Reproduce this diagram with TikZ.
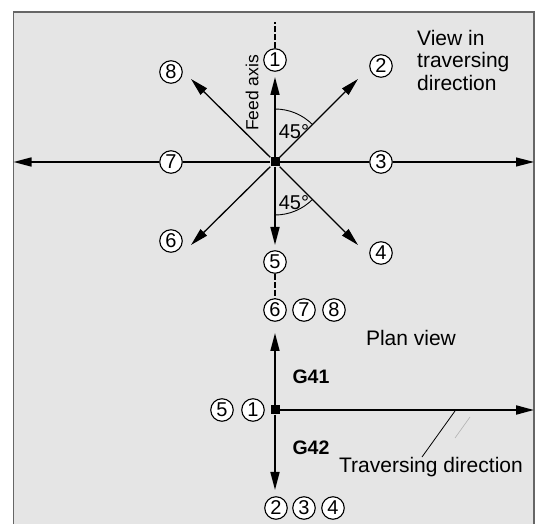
\documentclass[tikz,border=0pt]{standalone}
\usepackage{fontspec}
\setmainfont{Liberation Sans}
\usetikzlibrary{arrows.meta}

\begin{document}
\begin{tikzpicture}[
	x=1pt, y=-1pt,
	every node/.style={font=\fontsize{21}{22.5}\selectfont, inner sep=0pt},
	num/.style={draw, circle, fill=white, line width=1.1pt, minimum size=22.5pt, font=\fontsize{20}{20}\selectfont},
	dot/.style={fill=black, minimum size=9pt},
	arr/.style={-{Triangle[length=18pt, width=9pt]}, line width=1.6pt},
	thinarr/.style={-{Triangle[length=18pt, width=9pt]}, line width=1.1pt},
	feed/.style={line width=1.6pt, dash pattern=on 6pt off 2pt},
	angle/.style={line width=0.9pt}
]
\useasboundingbox (0,0) rectangle (542,524);
\fill[black!10] (13.5,12) rectangle (534,524);
\draw[black!60, line width=1.3pt] (13.5,524) -- (13.5,12) -- (534,12) -- (534,524);

% view in traversing direction
\node[dot] (c) at (275,162) {};
\node[num] (d1) at (275,60) {1};
\node[num] (d2) at (381,66) {2};
\node[num] (d3) at (381,162) {3};
\node[num] (d4) at (381,253) {4};
\node[num] (d5) at (275,262) {5};
\node[num] (d6) at (171,241) {6};
\node[num] (d7) at (171,162) {7};
\node[num] (d8) at (171,72) {8};
\coordinate (t1) at (275,77);
\coordinate (t2) at (358,79);
\coordinate (t4) at (358,245);
\coordinate (t5) at (275,245);
\coordinate (t6) at (191,245);
\coordinate (t8) at (191,79);
\coordinate (tl) at (13.5,162);
\coordinate (tr) at (534,162);
\coordinate (top) at (275,22);

\draw[arr] (c) -- (t1);
\draw[arr] (c) -- (t5);
\draw[arr, line width=1.3pt] (c) -- (t2);
\draw[arr, line width=1.3pt] (c) -- (t4);
\draw[arr, line width=1.3pt] (c) -- (t6);
\draw[arr, line width=1.3pt] (c) -- (t8);
\draw[line width=1.6pt] (c) -- (d7);
\draw[arr] (d7) -- (tl);
\draw[line width=1.1pt] (c) -- (d3);
\draw[thinarr] (d3) -- (tr);
\draw[feed] (d1) -- (top);

\draw[angle] ([shift={(0,-53)}]c.center) arc[start angle=-90, end angle=-45, radius=53];
\draw[angle] ([shift={(0,53)}]c.center) arc[start angle=90, end angle=45, radius=53];
\node[font=\fontsize{20}{20}\selectfont] (a1) at (294,132) {45°};
\node[font=\fontsize{20}{20}\selectfont] (a2) at (294,203) {45°};
\node[rotate=90, font=\fontsize{17.5}{17.5}\selectfont] (feed) at (252,93) {Feed axis};
\node[align=left, anchor=west] (view) at (417,60) {View in\\traversing\\direction};

% plan view
\node[num] (p6) at (275,310) {6};
\node[num] (p7) at (304,310) {7};
\node[num] (p8) at (334,310) {8};
\draw[feed] (d5) -- (p6);
\node[dot] (pc) at (275,410) {};
\node[num] (p5) at (222,410) {5};
\node[num] (p1) at (253,410) {1};
\node[num] (p2) at (276,508) {2};
\node[num] (p3) at (304,508) {3};
\node[num] (p4) at (333,508) {4};
\coordinate (pu) at (275,333);
\coordinate (pd) at (275,490);
\coordinate (pr) at (534,410);
\coordinate (la) at (455,411);

\draw[arr] (pc) -- (pu);
\draw[arr] (pc) -- (pd);
\draw[arr, line width=2pt] (pc) -- (pr);
\node (plan) at (411,338) {Plan view};
\node[font=\bfseries\fontsize{19.5}{19.5}\selectfont] (g41) at (311,377) {G41};
\node[font=\bfseries\fontsize{19.5}{19.5}\selectfont] (g42) at (311,448) {G42};
\node (trav) at (431,467) {Traversing direction};
\draw[line width=0.8pt] ([xshift=-9pt]trav.north) -- (la);
\draw[black!30, line width=0.6pt] (455,438) -- (470,417);
\end{tikzpicture}
\end{document}
